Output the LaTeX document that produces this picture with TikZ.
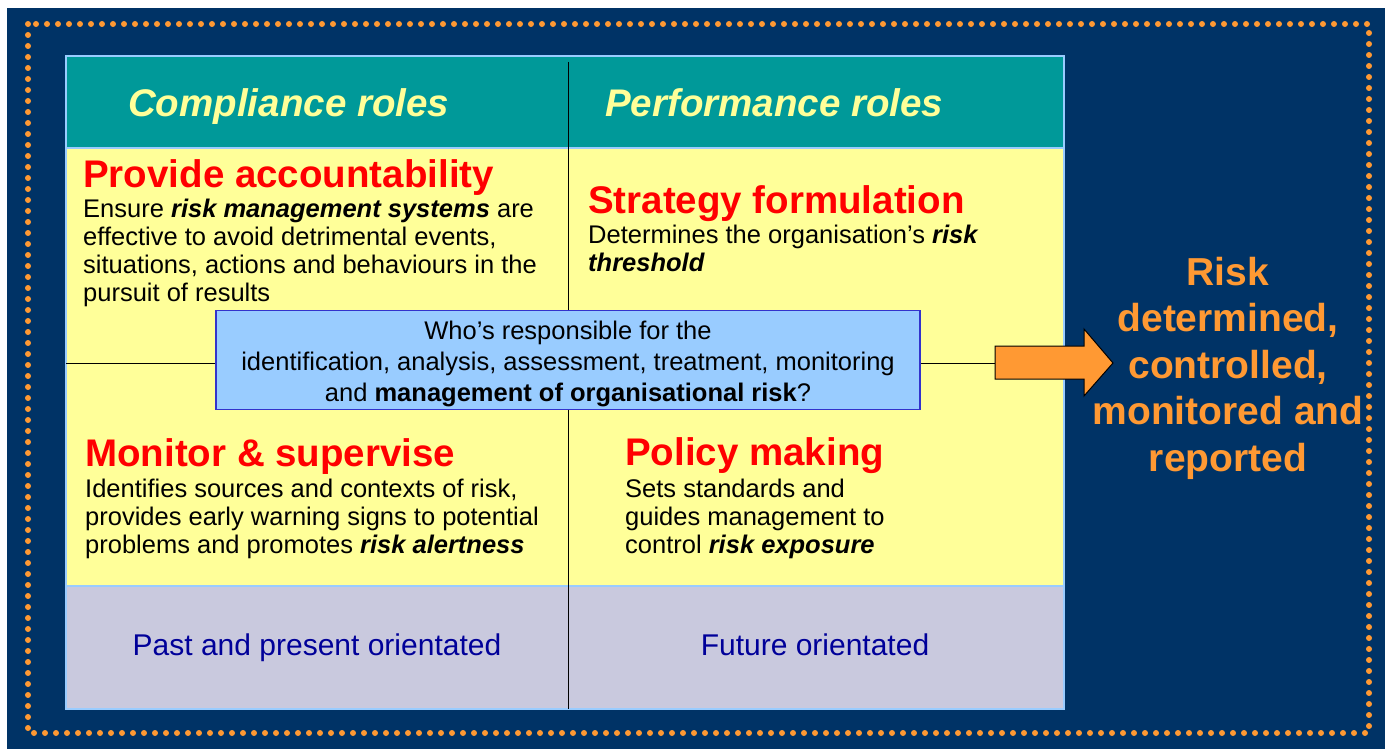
\documentclass[tikz,border=0pt]{standalone}
\usepackage{fontspec}
\setmainfont{Liberation Sans}
\usepackage{xcolor}
\usepackage{tikz}
\usetikzlibrary{positioning}

\definecolor{navybg}{HTML}{003366}
\definecolor{tealhead}{HTML}{009999}
\definecolor{paleyellow}{HTML}{FFFF99}
\definecolor{cellgray}{HTML}{C9C9DE}
\definecolor{boxblue}{HTML}{99CCFF}
\definecolor{boxedge}{HTML}{3333CC}
\definecolor{gridblue}{HTML}{99CCFF}
\definecolor{orangeacc}{HTML}{FF9933}
\definecolor{darkbluetext}{HTML}{000099}

\begin{document}
\begin{tikzpicture}[
        x=1pt, y=-1pt,
        % Text styles (multi-line nodes sit on their last baseline)
        header/.style={anchor=base west, inner sep=0pt, text=paleyellow,
                       font=\fontsize{38.5}{46}\selectfont\bfseries\itshape},
        title/.style={anchor=base west, inner sep=0pt, text=red,
                      font=\fontsize{38.5}{46}\selectfont\bfseries},
        body/.style={anchor=base west, inner sep=0pt, align=left,
                     font=\fontsize{25.5}{28}\selectfont},
        footer/.style={anchor=base, inner sep=0pt, text=darkbluetext,
                       font=\fontsize{30}{36}\selectfont},
        question/.style={rectangle, draw=boxedge, fill=boxblue, line width=1.2pt,
                         minimum width=704pt, minimum height=99pt, align=center,
                         inner sep=0pt, font=\fontsize{25.5}{31}\selectfont},
        outcome/.style={anchor=base, inner sep=0pt, align=center, text=orangeacc,
                        font=\fontsize{39}{46.5}\selectfont\bfseries},
        % Line styles
        divider/.style={draw=black, line width=1pt},
        gridline/.style={draw=gridblue, line width=1.2pt},
        dotframe/.style={draw=orangeacc, line width=6pt, line cap=round,
                         dash pattern=on 0pt off 11pt},
        bigarrow/.style={fill=orangeacc, draw=black, line width=1pt, line join=miter}
    ]
        \useasboundingbox (0,0) rectangle (1392,749);
        \fill[white] (0,0) rectangle (1392,749);
        \fill[navybg] (7,8) rectangle (1385,749);
        \draw[dotframe] (28,24) rectangle (1369,733);

        % Table cells
        \fill[tealhead] (66,56) rectangle (1064,148);
        \fill[paleyellow] (66,148) rectangle (1064,586);
        \fill[cellgray] (66,586) rectangle (1064,709);
        \draw[gridline] (66,56) rectangle (1064,709);
        \draw[gridline] (66,148) -- (1064,148);
        \draw[gridline] (66,586) -- (1064,586);

        % Cross lines
        \coordinate (divtop) at (568,62);
        \coordinate (divbot) at (568,709);
        \coordinate (rowleft) at (66,363);
        \coordinate (arrowtail) at (995,363);
        \draw[divider] (divtop) -- (divbot);
        \draw[divider] (rowleft) -- (arrowtail);

        % Column headers
        \node[header] (comphead) at (128,117) {Compliance roles};
        \node[header] (perfhead) at (605,117) {Performance roles};

        % Role cells
        \node[title] (account) at (83,187) {Provide accountability};
        \node[body] (accountbody) at (83,301) {Ensure \textbf{\textit{risk management systems}} are\\
            effective to avoid detrimental events,\\
            situations, actions and behaviours in the\\
            pursuit of results};

        \node[title] (strategy) at (588,213) {Strategy formulation};
        \node[body] (strategybody) at (588,271) {Determines the organisation’s \textbf{\textit{risk}}\\
            \textbf{\textit{threshold}}};

        \node[title] (monitor) at (85,466) {Monitor \& supervise};
        \node[body] (monitorbody) at (85,553) {Identifies sources and contexts of risk,\\
            provides early warning signs to potential\\
            problems and promotes \textbf{\textit{risk alertness}}};

        \node[title] (policy) at (625,465) {Policy making};
        \node[body] (policybody) at (625,553) {Sets standards and\\
            guides management to\\
            control \textbf{\textit{risk exposure}}};

        % Bottom row
        \node[footer] (past) at (317,655) {Past and present orientated};
        \node[footer] (future) at (815,655) {Future orientated};

        % Central question
        \node[question] (who) at (568,360) {\rule{0pt}{27pt}Who’s responsible for the\\
            identification, analysis, assessment, treatment, monitoring\\
            and \textbf{management of organisational risk}?};

        % Arrow to outcome
        \coordinate (arrowtip) at (1113,363);
        \draw[bigarrow] (995,346) -- (1084,346) -- (1084,329) -- (arrowtip)
            -- (1084,396) -- (1084,379) -- (995,379) -- cycle;

        \node[outcome] (result) at (1228,471) {Risk\\determined,\\controlled,\\monitored and\\reported};
    \end{tikzpicture}
\end{document}
